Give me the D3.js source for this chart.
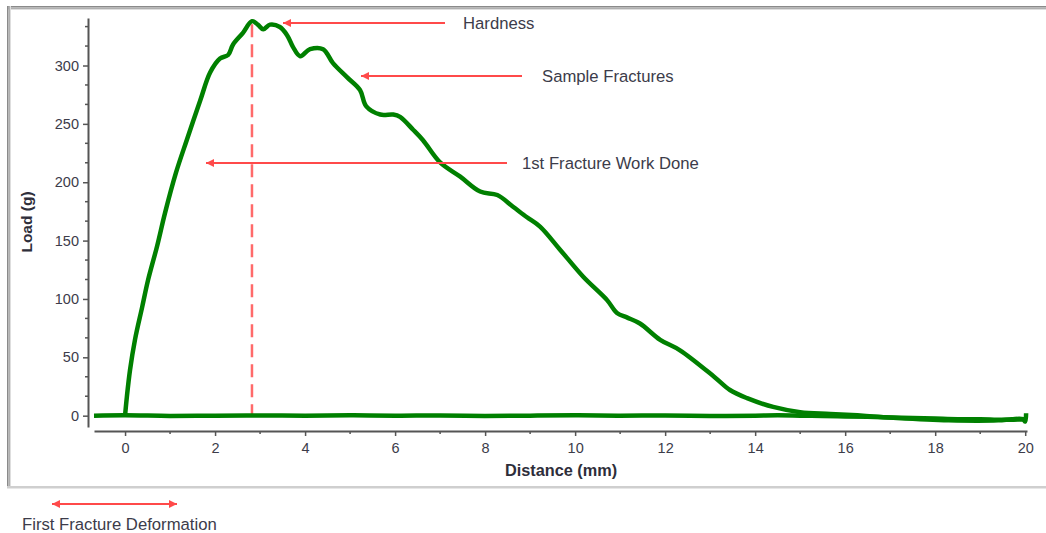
<!DOCTYPE html>
<html>
<head>
<meta charset="utf-8">
<script src="https://cdn.jsdelivr.net/npm/d3@7"></script>
<style>
  body { margin: 0; background: #fff; }
  svg { display: block; font-family: "Liberation Sans", Arial, sans-serif; }
</style>
</head>
<body>
<svg id="chart" width="1046" height="533"></svg>
<script>
// loading curve: distance (mm) vs load (g)
const loadDistance = [0, 0.04, 0.11, 0.22, 0.38, 0.51, 0.71, 0.89, 1.13, 1.37, 1.67, 1.89, 2.11, 2.29, 2.4, 2.62, 2.82,
  2.95, 3.07, 3.22, 3.44, 3.6, 3.73, 3.89, 4.11, 4.4, 4.62, 4.93, 5.22, 5.36, 5.67, 5.96, 6.11, 6.4, 6.62, 7.0, 7.44, 7.89,
  8.27, 8.62, 8.93, 9.22, 9.67, 10.18, 10.71, 10.93, 11.16, 11.44, 11.89, 12.33, 13.1, 13.44, 13.82, 14.4, 15.0,
  15.67, 16.4, 17.15, 18.3, 19.4, 19.7, 19.95, 20.0, 20.02];
const loadValues = [0, 16, 39, 65, 93, 116, 145, 174, 208, 236, 270, 294, 306, 309, 318, 328, 338,
  335, 331, 335, 333, 326, 316, 308, 314, 314, 302, 290, 279, 265, 258, 258, 256, 245, 236, 217, 205, 192,
  189, 179, 170, 162, 142, 119, 99, 88, 84, 79, 65, 56, 33, 22, 15, 7.5, 3,
  1.5, 0, -2, -4, -4, -3, -3, -5, 2];

// return path of the probe
const returnDistance = [20.0, 19.5, 19.0, 18.5, 18.0, 17.5, 17.0, 16.5, 16.0, 15.5, 15.0, 14.5, 14.0, 13.0, 12.0,
  11.0, 10.0, 9.0, 8.0, 7.0, 6.0, 5.0, 4.0, 3.0, 2.0, 1.0, 0.0, -0.69];
const returnValues = [-3, -3.5, -3, -3, -2.5, -2, -1.5, -1, -0.6, -0.3, 0, 0.3, 0, -0.2, 0.2,
  0, 0.3, 0, -0.2, 0.2, 0, 0.3, 0, 0.2, 0, -0.2, 0.3, 0];

const xTickValues = [0, 2, 4, 6, 8, 10, 12, 14, 16, 18, 20];
const yTickValues = [0, 50, 100, 150, 200, 250, 300];

const hardnessX = 2.82;
const hardnessLoad = 338;

const svg = d3.select('#chart');

// frame
svg.append('rect').attr('x', 7).attr('y', 6).attr('width', 1039).attr('height', 1.5).attr('fill', '#8a8a8a');
svg.append('rect').attr('x', 7).attr('y', 7.5).attr('width', 1039).attr('height', 1.5).attr('fill', '#b0b0b0');
svg.append('rect').attr('x', 7).attr('y', 9).attr('width', 1039).attr('height', 1).attr('fill', '#dedede');
svg.append('rect').attr('x', 7).attr('y', 6).attr('width', 1.5).attr('height', 482).attr('fill', '#8a8a8a');
svg.append('rect').attr('x', 8.5).attr('y', 6).attr('width', 1.5).attr('height', 482).attr('fill', '#b0b0b0');
svg.append('rect').attr('x', 10).attr('y', 6).attr('width', 1).attr('height', 480).attr('fill', '#dedede');
svg.append('rect').attr('x', 7).attr('y', 486).attr('width', 1039).attr('height', 2.5).attr('fill', '#cfcfcf');

const x = d3.scaleLinear().domain([-0.69, 20.04]).range([94, 1027]);
const y = d3.scaleLinear().domain([-9.7, 340.7]).range([427, 18]);

const tickColor = '#555';
const labelColor = '#3c3c4a';

// y axis
const yAxis = svg.append('g')
    .attr('transform', 'translate(88,0)')
    .call(d3.axisLeft(y).tickValues(yTickValues).tickSize(5).tickSizeOuter(0).tickPadding(4));
yAxis.select('.domain').attr('stroke', tickColor).attr('stroke-width', 2);
yAxis.selectAll('.tick line').attr('stroke', tickColor).attr('stroke-width', 1.5);
yAxis.selectAll('.tick text').attr('fill', labelColor).style('font-size', '14.5px');
yAxis.selectAll('.minor').data(d3.range(1, 21).map(i => i * 50 / 3).filter(v => v % 50 > 1 && v < 340))
    .enter().append('line')
    .attr('x1', -3).attr('x2', 0)
    .attr('y1', d => y(d)).attr('y2', d => y(d))
    .attr('stroke', tickColor).attr('stroke-width', 1.5);

// x axis
const xAxis = svg.append('g')
    .attr('transform', 'translate(0,431)')
    .call(d3.axisBottom(x).tickValues(xTickValues).tickSize(5).tickSizeOuter(0).tickPadding(7));
xAxis.select('.domain').attr('stroke', tickColor).attr('stroke-width', 2);
xAxis.selectAll('.tick line').attr('stroke', tickColor).attr('stroke-width', 1.5);
xAxis.selectAll('.tick text').attr('fill', labelColor).style('font-size', '14.5px');
xAxis.selectAll('.minor').data(d3.range(1, 20, 2))
    .enter().append('line')
    .attr('x1', d => x(d)).attr('x2', d => x(d))
    .attr('y1', 0).attr('y2', 3)
    .attr('stroke', tickColor).attr('stroke-width', 1.5);

// axis titles
svg.append('text')
    .attr('x', 561).attr('y', 472)
    .attr('text-anchor', 'middle').attr('dominant-baseline', 'middle')
    .attr('font-weight', 'bold').attr('font-size', 16.3).attr('fill', '#2e2e3a')
    .text('Distance (mm)');
svg.append('text')
    .attr('transform', 'translate(28,222) rotate(-90)')
    .attr('text-anchor', 'middle').attr('dominant-baseline', 'middle')
    .attr('font-weight', 'bold').attr('font-size', 15.5).attr('fill', '#2e2e3a')
    .text('Load (g)');

// dashed hardness marker
svg.append('line')
    .attr('x1', x(hardnessX)).attr('x2', x(hardnessX))
    .attr('y1', y(hardnessLoad) + 3).attr('y2', y(0))
    .attr('stroke', '#ff6a6a').attr('stroke-width', 2.5)
    .attr('stroke-dasharray', '13,7');

// data lines
const line = d3.line().curve(d3.curveCatmullRom.alpha(0.5)).x(d => x(d[0])).y(d => y(d[1]));
svg.append('path')
    .datum(returnDistance.map((d, i) => [d, returnValues[i]]))
    .attr('d', line)
    .attr('fill', 'none').attr('stroke', '#008000').attr('stroke-width', 4.5)
    .attr('stroke-linejoin', 'round');
svg.append('path')
    .datum(loadDistance.map((d, i) => [d, loadValues[i]]))
    .attr('d', line)
    .attr('fill', 'none').attr('stroke', '#008000').attr('stroke-width', 4.5)
    .attr('stroke-linejoin', 'round');

// annotations
const red = '#ff4a4a';
const defs = svg.append('defs');
defs.append('marker')
    .attr('id', 'arrow').attr('viewBox', '0 0 10 10')
    .attr('refX', 10).attr('refY', 5)
    .attr('markerWidth', 4).attr('markerHeight', 4)
    .attr('markerUnits', 'strokeWidth')
    .attr('orient', 'auto-start-reverse')
    .append('path').attr('d', 'M0,0 L10,5 L0,10 z').attr('fill', red);

const notes = [
  {text: 'Hardness', x1: 445, x2: 283, y: 23, tx: 463},
  {text: 'Sample Fractures', x1: 522, x2: 361, y: 76, tx: 542},
  {text: '1st Fracture Work Done', x1: 507, x2: 206, y: 163, tx: 522}
];
notes.forEach(n => {
  svg.append('line')
      .attr('x1', n.x1).attr('x2', n.x2).attr('y1', n.y).attr('y2', n.y)
      .attr('stroke', red).attr('stroke-width', 2)
      .attr('marker-end', 'url(#arrow)');
  svg.append('text')
      .attr('x', n.tx).attr('y', n.y + 1.5)
      .attr('dominant-baseline', 'middle')
      .attr('font-size', 16.7).attr('fill', labelColor)
      .text(n.text);
});

svg.append('line')
    .attr('x1', 52).attr('x2', 177).attr('y1', 504).attr('y2', 504)
    .attr('stroke', red).attr('stroke-width', 2)
    .attr('marker-start', 'url(#arrow)').attr('marker-end', 'url(#arrow)');
svg.append('text')
    .attr('x', 22).attr('y', 525.5)
    .attr('dominant-baseline', 'middle')
    .attr('font-size', 16.7).attr('fill', labelColor)
    .text('First Fracture Deformation');
</script>
</body>
</html>
